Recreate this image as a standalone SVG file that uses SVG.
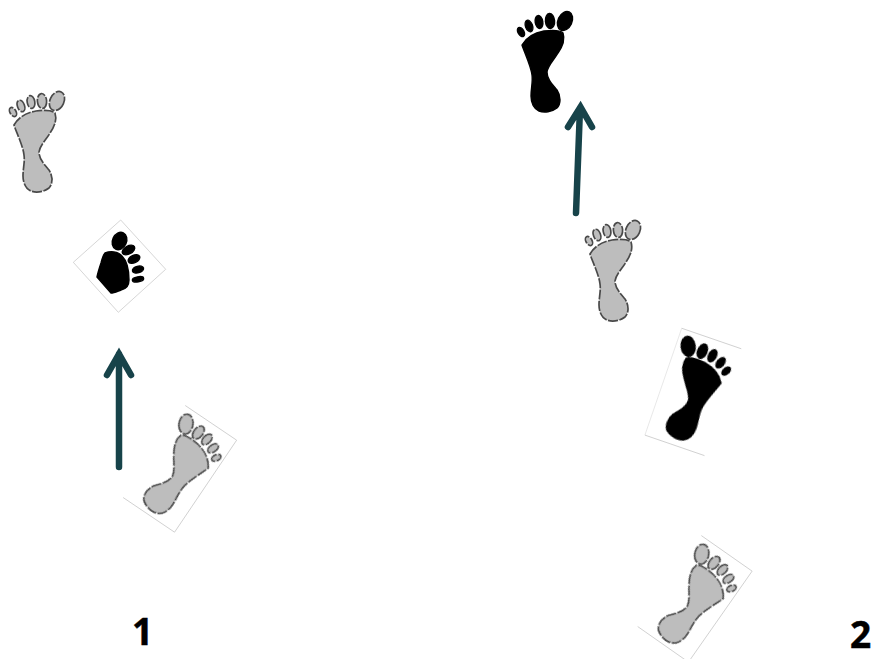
<svg xmlns="http://www.w3.org/2000/svg" xmlns:xlink="http://www.w3.org/1999/xlink" width="872" height="659" viewBox="0 0 872 659">
<style>
.grey{fill:#bdbdbd;stroke:#4a4a4a;stroke-width:1.7;stroke-dasharray:10 1.5}
.black{fill:#000;stroke:#000;stroke-width:1.4}
.frame{fill:none;stroke:#c4c4c4;stroke-width:.7;stroke-dasharray:none}
.arrow{fill:none;stroke:#17434a;stroke-width:6.5;stroke-linecap:round;stroke-linejoin:miter}
.num{font-family:"Open Sans","Liberation Sans",sans-serif;font-weight:700;font-size:37px;fill:#000;stroke:#000;stroke-width:.5}
</style>
<defs>
<filter id="soft" x="-10%" y="-10%" width="120%" height="120%"><feGaussianBlur stdDeviation="0.5"/></filter>
<g id="foot" filter="url(#soft)">
<path d="M14 125C18 118 25 113 36 111C44 110 52 110 55 113C57 119 55 126 50 133C46 140 40 145 39 152C39 159 44 164 49 170C53 176 53 184 49 188C44 192 36 193 31 191C26 189 23 183 23 176C23 168 25 162 24 155C23 146 17 134 14 125Z"/>
<ellipse cx="57" cy="101" rx="7" ry="10" transform="rotate(25 57 101)"/>
<ellipse cx="42" cy="101" rx="4.6" ry="7.5" transform="rotate(-5 42 101)"/>
<ellipse cx="31" cy="102" rx="3.8" ry="6.5" transform="rotate(-10 31 102)"/>
<ellipse cx="21" cy="106" rx="3.5" ry="6" transform="rotate(-20 21 106)"/>
<ellipse cx="13" cy="112" rx="3" ry="5" transform="rotate(-30 13 112)"/>
</g>
</defs>
<g id="connectors">
<path class="arrow" d="M119 467V354M107 375L119 354L131 375"/>
<path class="arrow" d="M576 213L580 108M568 127L580.500 107L592 127"/>
</g>
<g id="foot-1-top"><use xlink:href="#foot" href="#foot" class="grey"/></g>
<g id="foot-1-middle" class="black" filter="url(#soft)">
<polygon class="frame" points="120.700,220 165.700,269.300 118.300,312.300 73.300,262.300"/>
<path d="M105 253C110 251 118 251 122 256C127 261 129 270 129 280C129 286 126 289 121 290C118 291 114 293 111 293L97 277C98 272 99 269 101 263C102 259 103 255 105 253Z"/>
<ellipse cx="119.500" cy="241" rx="7" ry="9" transform="rotate(25 119.500 241)"/>
<ellipse cx="128.500" cy="250" rx="6.800" ry="4" transform="rotate(-30 128.500 250)"/>
<ellipse cx="134" cy="259" rx="6.200" ry="3.700" transform="rotate(-25 134 259)"/>
<ellipse cx="138" cy="269.500" rx="5.700" ry="3.300" transform="rotate(-15 138 269.500)"/>
<ellipse cx="138" cy="279.300" rx="5.700" ry="2.500" transform="rotate(-10 138 279.300)"/>
</g>
<g id="foot-1-bottom" transform="translate(181 469) rotate(34) scale(-1 1) translate(-36 -141)">
<path class="frame" d="M68 86H6V197H68"/>
<use xlink:href="#foot" href="#foot" class="grey"/>
</g>
<g id="foot-2-top"><use xlink:href="#foot" href="#foot" class="black" transform="translate(508 -80)"/></g>
<g id="foot-2-second"><use xlink:href="#foot" href="#foot" class="grey" transform="translate(576 129)"/></g>
<g id="foot-2-third" transform="translate(695 391) rotate(19) scale(-1 1) translate(-36 -141)">
<path class="frame" d="M69 199H6M6 86H69"/>
<path class="frame" d="M69 86V199" opacity=".5"/>
<use xlink:href="#foot" href="#foot" class="black"/>
</g>
<g id="foot-2-bottom" transform="translate(696 599) rotate(35) scale(-1 1) translate(-36 -141)">
<path class="frame" d="M68 86H6V197H68"/>
<use xlink:href="#foot" href="#foot" class="grey"/>
</g>
<text class="num" x="132" y="645">1</text>
<text class="num" x="850" y="648">2</text>
</svg>
